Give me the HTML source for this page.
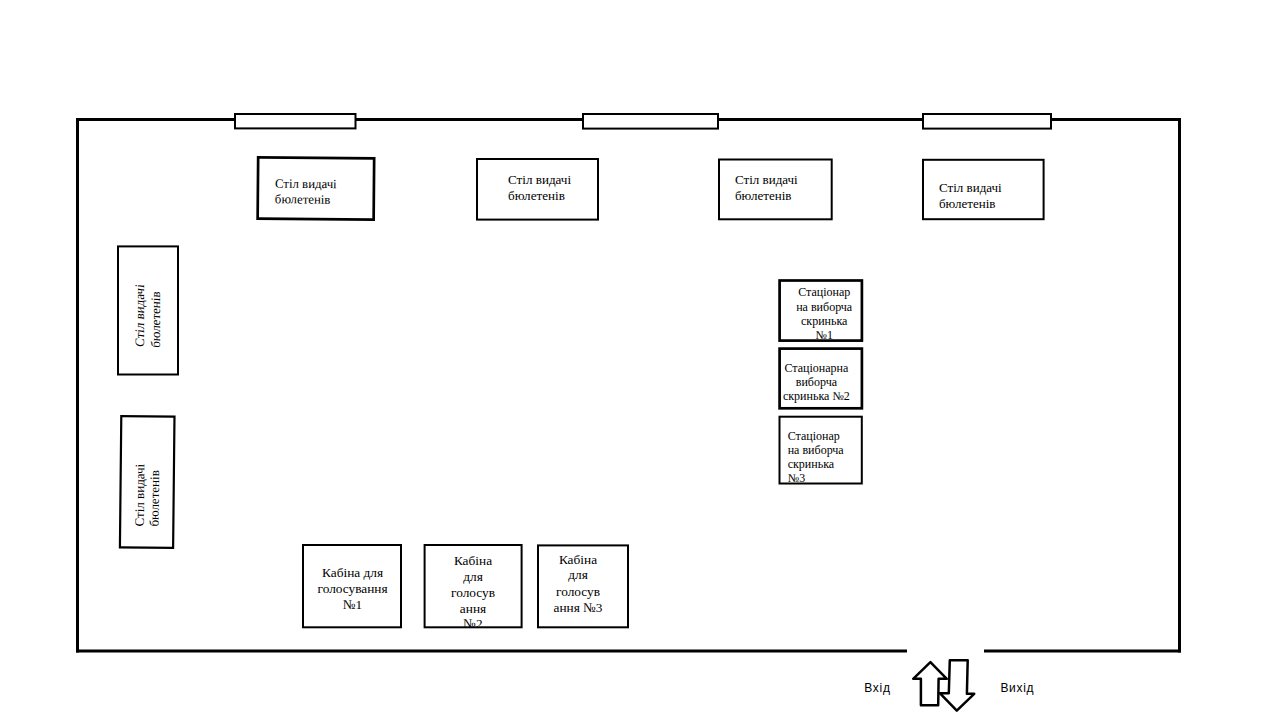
<!DOCTYPE html>
<html><head><meta charset="utf-8"><style>
html,body{margin:0;padding:0;background:#fff;width:1280px;height:720px;overflow:hidden}
svg{display:block}
text{font-family:"Liberation Serif",serif;fill:#000}
.s{font-family:"Liberation Sans",sans-serif}
</style></head><body>
<svg width="1280" height="720" viewBox="0 0 1280 720">
<rect x="0" y="0" width="1280" height="720" fill="#fff"/>
<!-- walls -->
<g fill="#000">
<rect x="76" y="118" width="1105" height="3"/>
<rect x="76" y="118" width="3" height="534.5"/>
<rect x="1178" y="118" width="3" height="534.5"/>
<rect x="76" y="649.5" width="831" height="3"/>
<rect x="984" y="649.5" width="197" height="3"/>
</g>
<!-- windows -->
<g fill="#fff" stroke="#000" stroke-width="2">
<rect x="235" y="114" width="120.5" height="14.4"/>
<rect x="583" y="114" width="135" height="14.6"/>
<rect x="923" y="114" width="128" height="14.6"/>
</g>

<!-- top tables -->
<g transform="rotate(0.5 315.9 188.4)">
<rect x="257.9" y="157.8" width="116" height="61.3" fill="#fff" stroke="#000" stroke-width="2.7"/>
<text x="275" y="188" font-size="12.8">Стіл видачі</text>
<text x="275" y="203.6" font-size="12.8">бюлетенів</text>
</g>
<rect x="477" y="159" width="121" height="60.6" fill="#fff" stroke="#000" stroke-width="2"/>
<text x="508" y="183.9" font-size="13.1">Стіл видачі</text>
<text x="508" y="199.8" font-size="13.1">бюлетенів</text>

<rect x="719" y="159.5" width="112.7" height="59.8" fill="#fff" stroke="#000" stroke-width="2"/>
<text x="735" y="183.9" font-size="13">Стіл видачі</text>
<text x="735" y="199.5" font-size="13">бюлетенів</text>

<rect x="923" y="159.8" width="120.6" height="59.4" fill="#fff" stroke="#000" stroke-width="2"/>
<text x="939" y="191.9" font-size="13">Стіл видачі</text>
<text x="939" y="207.8" font-size="13">бюлетенів</text>

<!-- left rotated tables -->
<rect x="118" y="246.4" width="60" height="128.1" fill="#fff" stroke="#000" stroke-width="2"/>
<text transform="translate(144.3 347.3) rotate(-90) skewX(-7)" font-size="13">Стіл видачі</text>
<text transform="translate(159.8 348.1) rotate(-90) skewX(-5)" font-size="13">бюлетенів</text>

<g transform="rotate(0.6 147.2 482)">
<rect x="120.6" y="416.4" width="53.2" height="131.3" fill="#fff" stroke="#000" stroke-width="2.2"/>
<text transform="translate(144.2 526.5) rotate(-90)" font-size="13">Стіл видачі</text>
<text transform="translate(159 526.5) rotate(-90)" font-size="13">бюлетенів</text>
</g>

<!-- ballot boxes -->
<g font-size="12" text-anchor="middle">
<text x="824.2" y="295.5">Стаціонар</text>
<text x="824.2" y="310.6">на  виборча</text>
<text x="824.2" y="324.7">скринька</text>
<text x="824.2" y="339">№1</text>
</g>
<rect x="779.6" y="280.5" width="82.3" height="60.1" fill="none" stroke="#000" stroke-width="2.7"/>

<g font-size="12" text-anchor="middle">
<text x="816.4" y="371.8">Стаціонарна</text>
<text x="816.4" y="385.8">виборча</text>
<text x="816.4" y="400.4">скринька №2</text>
</g>
<rect x="779.6" y="348.6" width="82.3" height="59.7" fill="none" stroke="#000" stroke-width="2.7"/>

<g font-size="12">
<text x="787.7" y="439.9">Стаціонар</text>
<text x="787.7" y="453.6">на  виборча</text>
<text x="787.7" y="468.4">скринька</text>
<text x="787.7" y="482">№3</text>
</g>
<rect x="779.5" y="416.7" width="82.3" height="66.8" fill="none" stroke="#000" stroke-width="2"/>

<!-- booths -->
<g font-size="13.33" text-anchor="middle">
<text x="352.6" y="576.7">Кабіна для</text>
<text x="352.6" y="592.6">голосування</text>
<text x="352.6" y="608.6">№1</text>
</g>
<rect x="303" y="545" width="98" height="82.3" fill="none" stroke="#000" stroke-width="2"/>

<g font-size="13.33" text-anchor="middle">
<text x="473" y="564.9">Кабіна</text>
<text x="473" y="580.8">для</text>
<text x="473" y="596.8">голосув</text>
<text x="473" y="612.8">ання</text>
<text x="473" y="627.8">№2</text>
</g>
<rect x="424.6" y="545" width="97" height="82.3" fill="none" stroke="#000" stroke-width="2"/>

<g font-size="13.33" text-anchor="middle">
<text x="578" y="563.5">Кабіна</text>
<text x="578" y="579.4">для</text>
<text x="578" y="596.1">голосув</text>
<text x="578" y="611.8">ання №3</text>
</g>
<rect x="538" y="545.4" width="90" height="81.9" fill="none" stroke="#000" stroke-width="2"/>

<!-- arrows -->
<polygon points="930.4,662.1 946.8,678.8 938.6,678.8 938.2,705.3 920.9,705.3 920.9,678.8 913.2,678.8" fill="#fff" stroke="#000" stroke-width="2.5" stroke-linejoin="round"/>
<polygon points="949.8,660.2 967.7,660.2 966.9,693.8 974.2,693.8 956.8,710.7 939.8,693.2 948.8,693.2" fill="#fff" stroke="#000" stroke-width="2.5" stroke-linejoin="round"/>

<text class="s" x="864.3" y="691.8" font-size="12" letter-spacing="0.7">Вхід</text>
<text class="s" x="1000.4" y="691.8" font-size="12" letter-spacing="0.7">Вихід</text>
</svg>
</body></html>
